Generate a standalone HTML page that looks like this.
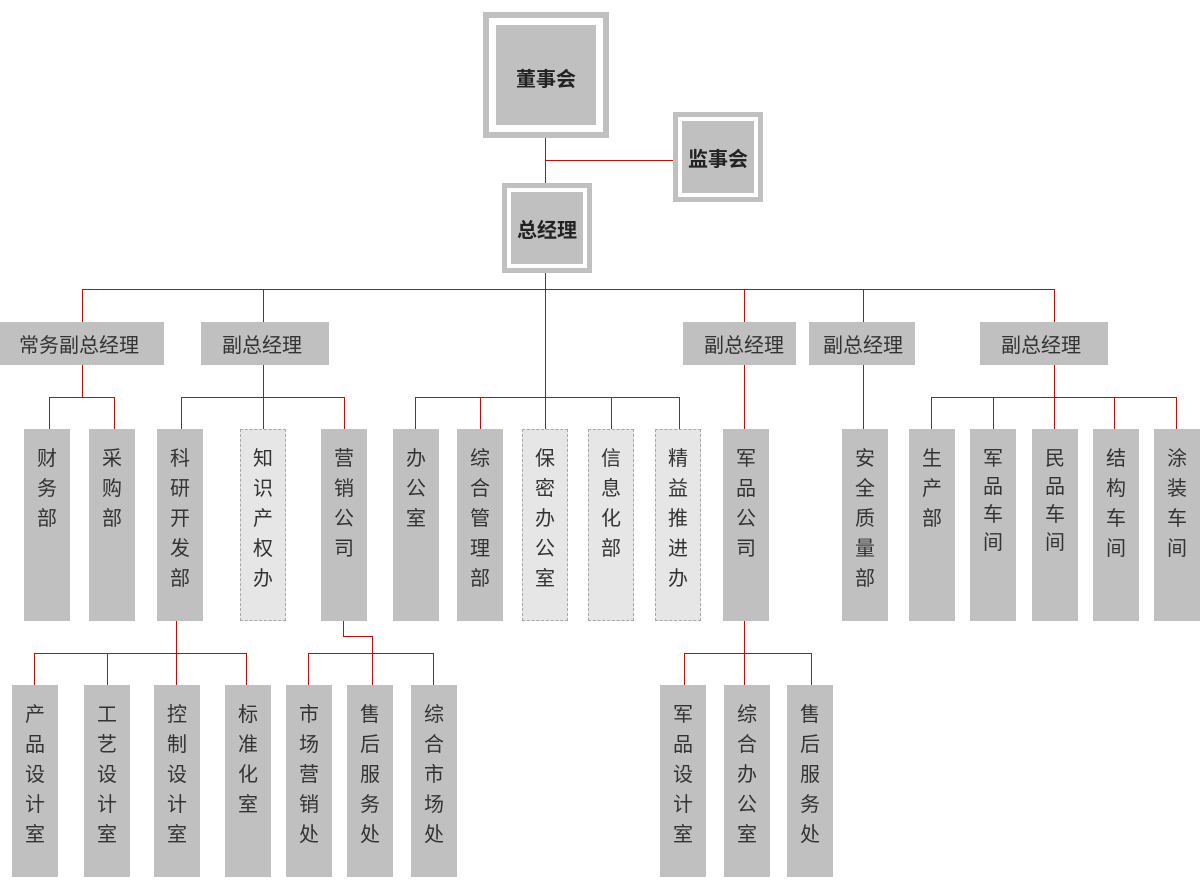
<!DOCTYPE html>
<html><head><meta charset="utf-8">
<style>
*{margin:0;padding:0;box-sizing:border-box}
html,body{width:1200px;height:886px;background:#fff;overflow:hidden}
body{position:relative;font-family:"Liberation Sans","Noto Sans CJK SC",sans-serif;color:#333}
.a{position:absolute}
.v{position:absolute;width:1px;background:#e00000}
.h{position:absolute;height:1px;background:#e00000}
.g{position:absolute;background:#c0c0c0}
.r{position:absolute;top:322px;height:43px;background:#c0c0c0;font-size:20px;line-height:43px;padding-top:3px;text-align:center;color:#333}
.t{position:absolute;width:46px;height:192px;background:#c0c0c0;font-size:20px;line-height:30px;text-align:center;padding-top:15px;color:#333}
.d{background:#e6e6e6;border:1px dashed #a8a8a8;padding-top:14px}
.o{position:absolute;background:#fff;border:5px solid #c0c0c0}
.in{position:absolute;background:#c0c0c0;font-weight:bold;font-size:20px;text-align:center;color:#222}
</style></head><body>

<!-- top boxes -->
<div class="o" style="left:483px;top:12px;width:126px;height:126px;border-width:6px"></div>
<div class="in" style="left:496px;top:25px;width:100px;height:100px;line-height:100px;padding-top:5px">董事会</div>

<div class="o" style="left:673px;top:112px;width:90px;height:90px"></div>
<div class="in" style="left:682px;top:121px;width:72px;height:72px;line-height:72px;padding-top:3px">监事会</div>

<div class="o" style="left:502px;top:183px;width:90px;height:90px"></div>
<div class="in" style="left:511px;top:192px;width:72px;height:72px;line-height:72px;padding-top:3px">总经理</div>

<!-- top connectors -->
<div class="v" style="left:545px;top:138px;height:45px"></div>
<div class="h" style="left:545px;top:160px;width:128px"></div>
<div class="v" style="left:545px;top:273px;height:156px"></div>
<div class="h" style="left:82px;top:289px;width:973px"></div>
<div class="v" style="left:82px;top:289px;height:33px"></div>
<div class="v" style="left:263px;top:289px;height:33px"></div>
<div class="v" style="left:744px;top:289px;height:33px"></div>
<div class="v" style="left:863px;top:289px;height:33px"></div>
<div class="v" style="left:1054px;top:289px;height:33px"></div>

<!-- row 2 -->
<div class="r" style="left:0;width:164px;padding-right:6px">常务副总经理</div>
<div class="r" style="left:201px;width:128px;padding-right:6px">副总经理</div>
<div class="r" style="left:683px;width:113px;padding-left:9px">副总经理</div>
<div class="r" style="left:809px;width:106px;padding-left:2px">副总经理</div>
<div class="r" style="left:980px;width:128px;padding-right:6px">副总经理</div>

<!-- row 2->3 connectors -->
<div class="v" style="left:82px;top:365px;height:32px"></div>
<div class="h" style="left:49px;top:397px;width:66px"></div>
<div class="v" style="left:49px;top:397px;height:32px"></div>
<div class="v" style="left:114px;top:397px;height:32px"></div>

<div class="v" style="left:263px;top:365px;height:64px"></div>
<div class="h" style="left:181px;top:397px;width:164px"></div>
<div class="v" style="left:181px;top:397px;height:32px"></div>
<div class="v" style="left:344px;top:397px;height:32px"></div>

<div class="h" style="left:415px;top:397px;width:265px"></div>
<div class="v" style="left:415px;top:397px;height:32px"></div>
<div class="v" style="left:480px;top:397px;height:32px"></div>
<div class="v" style="left:611px;top:397px;height:32px"></div>
<div class="v" style="left:679px;top:397px;height:32px"></div>

<div class="v" style="left:744px;top:365px;height:64px"></div>
<div class="v" style="left:863px;top:365px;height:64px"></div>

<div class="v" style="left:1054px;top:365px;height:64px"></div>
<div class="h" style="left:931px;top:397px;width:246px"></div>
<div class="v" style="left:931px;top:397px;height:32px"></div>
<div class="v" style="left:993px;top:397px;height:32px"></div>
<div class="v" style="left:1114px;top:397px;height:32px"></div>
<div class="v" style="left:1176px;top:397px;height:32px"></div>

<!-- row 3 -->
<div class="t" style="left:24px;top:429px">财<br>务<br>部</div>
<div class="t" style="left:89px;top:429px">采<br>购<br>部</div>
<div class="t" style="left:157px;top:429px">科<br>研<br>开<br>发<br>部</div>
<div class="t d" style="left:240px;top:429px">知<br>识<br>产<br>权<br>办</div>
<div class="t" style="left:321px;top:429px">营<br>销<br>公<br>司</div>
<div class="t" style="left:393px;top:429px">办<br>公<br>室</div>
<div class="t" style="left:457px;top:429px">综<br>合<br>管<br>理<br>部</div>
<div class="t d" style="left:522px;top:429px">保<br>密<br>办<br>公<br>室</div>
<div class="t d" style="left:588px;top:429px">信<br>息<br>化<br>部</div>
<div class="t d" style="left:655px;top:429px">精<br>益<br>推<br>进<br>办</div>
<div class="t" style="left:723px;top:429px">军<br>品<br>公<br>司</div>
<div class="t" style="left:842px;top:429px">安<br>全<br>质<br>量<br>部</div>
<div class="t" style="left:909px;top:429px">生<br>产<br>部</div>
<div class="t" style="left:970px;top:429px;line-height:28px;padding-top:16px">军<br>品<br>车<br>间</div>
<div class="t" style="left:1032px;top:429px;line-height:28px;padding-top:16px">民<br>品<br>车<br>间</div>
<div class="t" style="left:1093px;top:429px">结<br>构<br>车<br>间</div>
<div class="t" style="left:1154px;top:429px">涂<br>装<br>车<br>间</div>

<!-- row 3->4 connectors -->
<div class="v" style="left:176px;top:621px;height:64px"></div>
<div class="h" style="left:34px;top:653px;width:213px"></div>
<div class="v" style="left:34px;top:653px;height:32px"></div>
<div class="v" style="left:107px;top:653px;height:32px"></div>
<div class="v" style="left:246px;top:653px;height:32px"></div>

<div class="v" style="left:343px;top:621px;height:15px"></div>
<div class="h" style="left:343px;top:636px;width:30px"></div>
<div class="v" style="left:372px;top:636px;height:49px"></div>
<div class="h" style="left:308px;top:653px;width:126px"></div>
<div class="v" style="left:308px;top:653px;height:32px"></div>
<div class="v" style="left:433px;top:653px;height:32px"></div>

<div class="v" style="left:744px;top:621px;height:64px"></div>
<div class="h" style="left:684px;top:653px;width:128px"></div>
<div class="v" style="left:684px;top:653px;height:32px"></div>
<div class="v" style="left:811px;top:653px;height:32px"></div>

<!-- row 4 -->
<div class="t" style="left:12px;top:685px">产<br>品<br>设<br>计<br>室</div>
<div class="t" style="left:84px;top:685px">工<br>艺<br>设<br>计<br>室</div>
<div class="t" style="left:154px;top:685px">控<br>制<br>设<br>计<br>室</div>
<div class="t" style="left:225px;top:685px">标<br>准<br>化<br>室</div>
<div class="t" style="left:286px;top:685px">市<br>场<br>营<br>销<br>处</div>
<div class="t" style="left:347px;top:685px">售<br>后<br>服<br>务<br>处</div>
<div class="t" style="left:411px;top:685px">综<br>合<br>市<br>场<br>处</div>
<div class="t" style="left:660px;top:685px">军<br>品<br>设<br>计<br>室</div>
<div class="t" style="left:724px;top:685px">综<br>合<br>办<br>公<br>室</div>
<div class="t" style="left:787px;top:685px">售<br>后<br>服<br>务<br>处</div>

</body></html>
